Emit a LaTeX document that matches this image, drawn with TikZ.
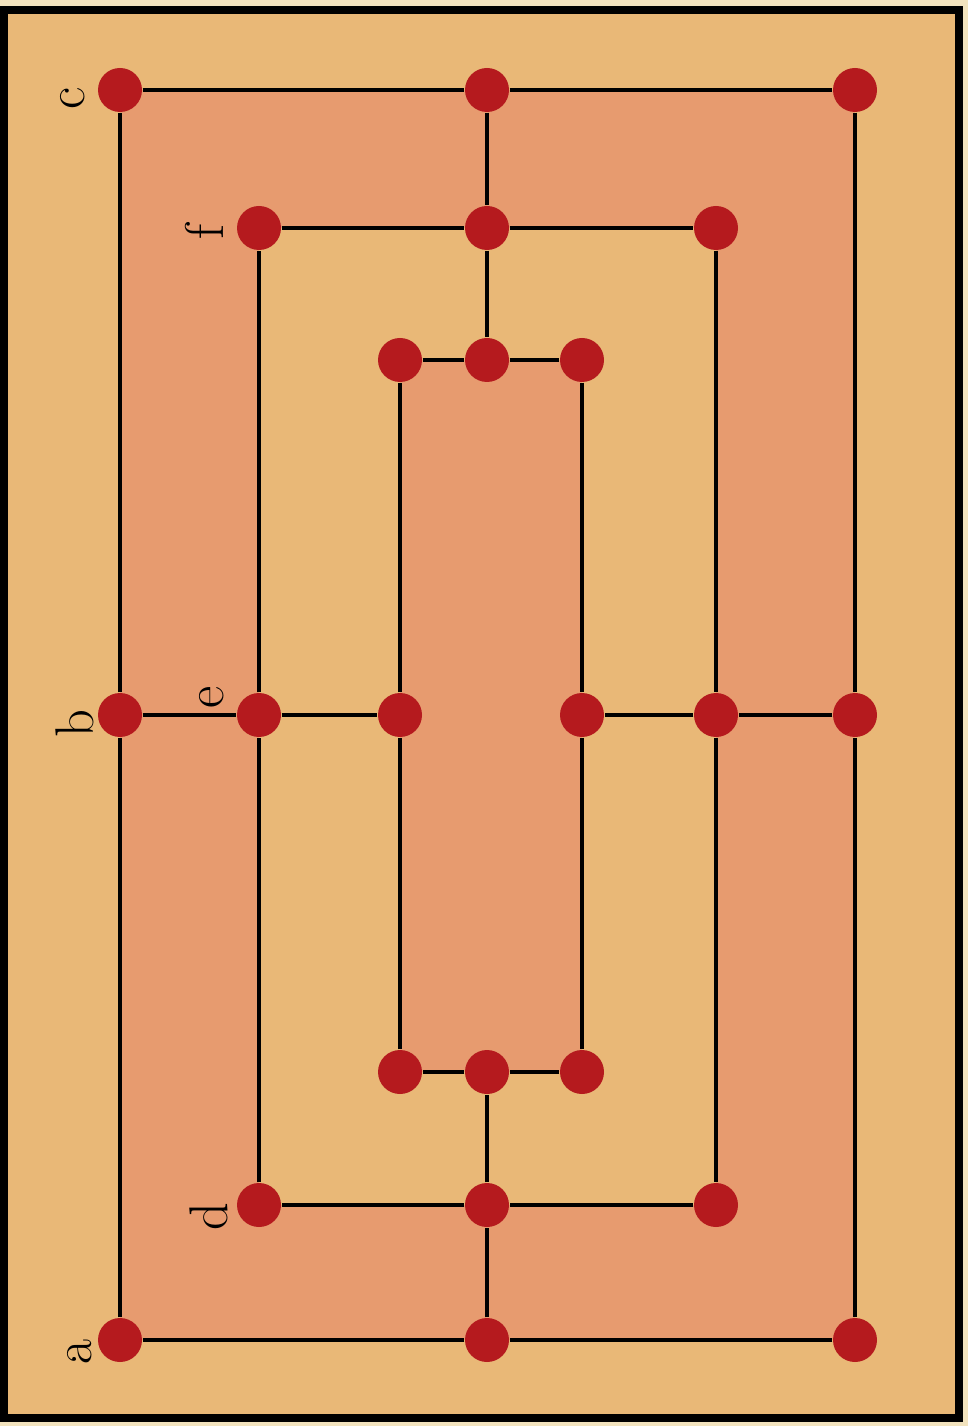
\documentclass[tikz,border=0pt]{standalone}
\usepackage{tikz}
\usetikzlibrary{positioning}
\definecolor{paper}{HTML}{F2E3BE}
\definecolor{board}{HTML}{E9B877}
\definecolor{band}{HTML}{E79B6F}
\definecolor{peg}{HTML}{B51A1E}

\begin{document}
\begin{tikzpicture}[x=0.1mm,y=-0.1mm,
  spot/.style={circle,fill=peg,inner sep=0pt,minimum size=4.4mm},
  wire/.style={line width=0.9pt,black},
  lbl/.style={rotate=90,inner sep=0pt,font=\fontsize{15.5}{18}\selectfont}]
  \useasboundingbox[fill=paper] (0,0) rectangle (968,1426);
  \draw[fill=board,line width=0.8mm] (4,10) rectangle (959,1418);
  % ring fills: outer, middle, inner
  \foreach \xl/\xr/\yt/\yb/\col in {120/855/90/1340/band, 259/716/228/1205/board, 400/582/360/1072/band}{
    \fill[\col] (\xl,\yt) rectangle (\xr,\yb);
  }
  % pegs and ring lines
  \foreach \r/\xl/\xr/\yt/\yb in {o/120/855/90/1340, m/259/716/228/1205, i/400/582/360/1072}{
    \node[spot] (\r1) at (\xl,\yt) {};
    \node[spot] (\r2) at (487,\yt) {};
    \node[spot] (\r3) at (\xr,\yt) {};
    \node[spot] (\r4) at (\xr,715) {};
    \node[spot] (\r5) at (\xr,\yb) {};
    \node[spot] (\r6) at (487,\yb) {};
    \node[spot] (\r7) at (\xl,\yb) {};
    \node[spot] (\r8) at (\xl,715) {};
    \draw[wire] (\r1) -- (\r2) -- (\r3) -- (\r4) -- (\r5) -- (\r6) -- (\r7) -- (\r8) -- (\r1);
  }
  \foreach \k in {2,4,6,8}{
    \draw[wire] (o\k) -- (m\k) -- (i\k);
  }
  % letters
  \node[lbl] (la) at (80,1352) {a};
  \node[lbl] (lb) at (75,724) {b};
  \node[lbl] (lc) at (73,98) {c};
  \node[lbl] (ld) at (209,1217) {d};
  \node[lbl] (le) at (212,697) {e};
  \node[lbl] (lf) at (204,232) {f};
\end{tikzpicture}
\end{document}
